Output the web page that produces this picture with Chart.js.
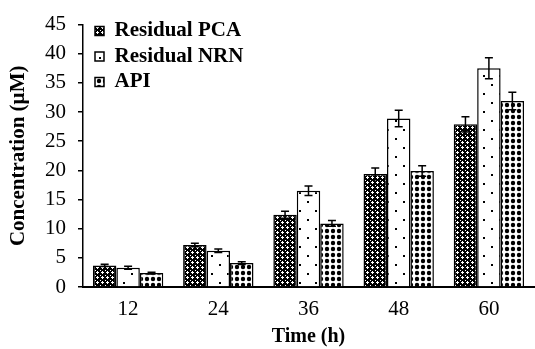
<!DOCTYPE html>
<html>
<head>
<meta charset="utf-8">
<script src="https://cdn.jsdelivr.net/npm/chart.js@4.4.1/dist/chart.umd.min.js"></script>
<style>
  html, body { margin: 0; padding: 0; background: #fff; }
  #wrap { width: 535px; height: 349px; }
</style>
</head>
<body>
<div id="wrap"><canvas id="concChart" width="535" height="349"></canvas></div>
<script>
const times = ['12', '24', '36', '48', '60'];
const pcaValues = [3.7, 7.2, 12.4, 19.4, 27.9];
const nrnValues = [3.3, 6.2, 16.5, 28.9, 37.5];
const apiValues = [2.4, 4.1, 10.9, 19.9, 31.9];
const pcaErrors = [0.2, 0.3, 0.6, 1.0, 1.3];
const nrnErrors = [0.25, 0.3, 0.8, 1.4, 1.8];
const apiErrors = [0.15, 0.25, 0.5, 0.9, 1.5];
const yTicks = [0, 5, 10, 15, 20, 25, 30, 35, 40, 45];

// hatch fills like the printed figure
function makePattern(kind) {
    const c = document.createElement('canvas');
    const g = c.getContext('2d');
    if (kind === 'pca') {
        c.width = 5; c.height = 5;
        g.fillStyle = '#000';
        g.fillRect(0, 0, 5, 5);
        g.fillStyle = '#fff';
        g.fillRect(2, 1, 1, 3);
        g.fillRect(1, 2, 3, 1);
        g.fillRect(0, 0, 1, 1);
    } else if (kind === 'nrn') {
        c.width = 16; c.height = 18;
        g.fillStyle = '#fff';
        g.fillRect(0, 0, 16, 18);
        g.fillStyle = '#000';
        g.fillRect(3, 3, 2, 2);
        g.fillRect(11, 12, 2, 2);
    } else {
        c.width = 6; c.height = 6;
        g.fillStyle = '#fff';
        g.fillRect(0, 0, 6, 6);
        g.fillStyle = '#000';
        g.beginPath(); g.arc(3, 3, 2.2, 0, Math.PI * 2); g.fill();
    }
    return document.getElementById('concChart').getContext('2d').createPattern(c, 'repeat');
}

const errorBars = {
    id: 'errorBars',
    afterDatasetsDraw(chart) {
        const ctx = chart.ctx;
        const y = chart.scales.y;
        ctx.save();
        ctx.strokeStyle = '#000';
        ctx.lineWidth = 1.5;
        chart.data.datasets.forEach((ds, i) => {
            const meta = chart.getDatasetMeta(i);
            meta.data.forEach((bar, j) => {
                const v = ds.data[j];
                const e = ds.errors[j];
                const top = y.getPixelForValue(v + e);
                const bot = y.getPixelForValue(v - e);
                ctx.beginPath();
                ctx.moveTo(bar.x, top); ctx.lineTo(bar.x, bot);
                ctx.moveTo(bar.x - 4, top); ctx.lineTo(bar.x + 4, top);
                ctx.moveTo(bar.x - 4, bot); ctx.lineTo(bar.x + 4, bot);
                ctx.stroke();
            });
        });
        ctx.restore();
    }
};

// put the legend inside the plot, top left
const legendSpot = {
    id: 'legendSpot',
    afterLayout(chart) {
        chart.legend.left = 90.5;
        chart.legend.top = 16;
    }
};

const serif = 'Liberation Serif, Times New Roman, serif';

new Chart(document.getElementById('concChart'), {
    type: 'bar',
    data: {
        labels: times,
        datasets: [
            { label: 'Residual PCA', data: pcaValues, errors: pcaErrors, backgroundColor: makePattern('pca'), borderColor: '#000', borderWidth: 1.5 },
            { label: 'Residual NRN', data: nrnValues, errors: nrnErrors, backgroundColor: makePattern('nrn'), borderColor: '#000', borderWidth: 1.5 },
            { label: 'API', data: apiValues, errors: apiErrors, backgroundColor: makePattern('api'), borderColor: '#000', borderWidth: 1.5 }
        ]
    },
    options: {
        responsive: false,
        animation: false,
        categoryPercentage: 0.78,
        barPercentage: 1,
        layout: { padding: { top: 21, right: 1, bottom: 0, left: 0 } },
        plugins: {
            tooltip: { enabled: false },
            legend: {
                position: 'chartArea',
                align: 'start',
                labels: {
                    boxWidth: 9,
                    boxHeight: 9,
                    padding: 4.5,
                    color: '#000',
                    font: { family: serif, size: 21, weight: 'bold' }
                }
            }
        },
        scales: {
            x: {
                grid: { display: false, drawTicks: false },
                border: { display: true, color: '#000', width: 2 },
                ticks: { color: '#000', padding: 10, font: { family: serif, size: 21 } },
                title: {
                    display: true,
                    text: 'Time (h)',
                    color: '#000',
                    padding: { top: 0, bottom: 0 },
                    font: { family: serif, size: 20, weight: 'bold' }
                },
                afterFit(scale) { scale.height = 62; }
            },
            y: {
                min: 0,
                max: 45,
                afterBuildTicks(scale) { scale.ticks = yTicks.map(v => ({ value: v })); },
                grid: { drawOnChartArea: false, drawTicks: true, tickLength: 5, color: '#000', lineWidth: 1.5 },
                border: { display: true, color: '#000', width: 1.5 },
                ticks: { color: '#000', padding: 12, font: { family: serif, size: 21 } },
                title: {
                    display: true,
                    text: 'Concentration (µM)',
                    color: '#000',
                    padding: { top: 6, bottom: 0 },
                    font: { family: serif, size: 21, weight: 'bold' }
                },
                afterFit(scale) { scale.width = 83; }
            }
        }
    },
    plugins: [errorBars, legendSpot]
});
</script>
</body>
</html>
